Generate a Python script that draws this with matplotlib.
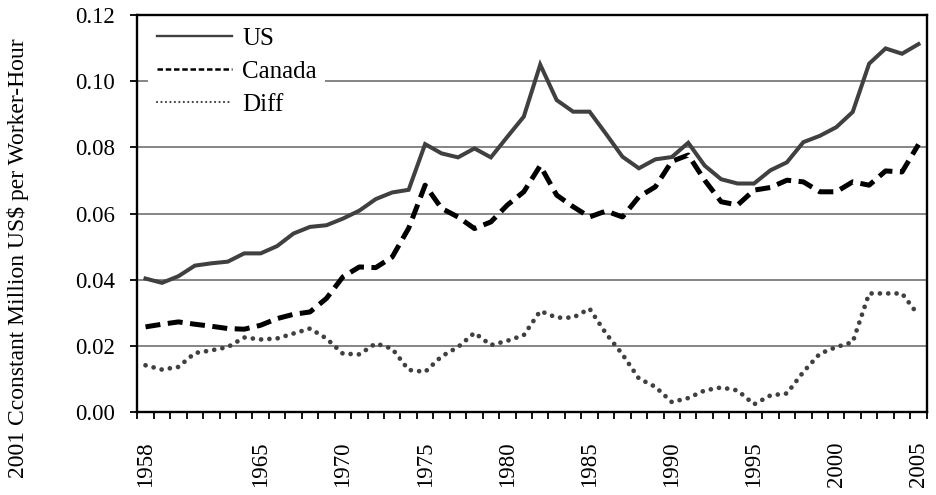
import matplotlib
matplotlib.use("Agg")
import matplotlib.pyplot as plt
from matplotlib.ticker import FixedLocator, FormatStrFormatter
from matplotlib.lines import Line2D

years = list(range(1958, 2006))
us = [0.0404, 0.0391, 0.0411, 0.0443, 0.0450, 0.0455, 0.0480, 0.0480, 0.0502, 0.0540,
      0.0560, 0.0565, 0.0585, 0.0609, 0.0644, 0.0664, 0.0672, 0.0810, 0.0782, 0.0770,
      0.0797, 0.0770, 0.0832, 0.0893, 0.1050, 0.0943, 0.0908, 0.0908, 0.0841, 0.0772,
      0.0737, 0.0764, 0.0771, 0.0814, 0.0745, 0.0704, 0.0691, 0.0691, 0.0731, 0.0755,
      0.0816, 0.0835, 0.0861, 0.0907, 0.1053, 0.1099, 0.1083, 0.1112]
canada = [0.0258, 0.0266, 0.0273, 0.0266, 0.0260, 0.0253, 0.0251, 0.0263, 0.0283, 0.0296,
          0.0303, 0.0344, 0.0409, 0.0439, 0.0437, 0.0469, 0.0556, 0.0686, 0.0616, 0.0590,
          0.0555, 0.0575, 0.0626, 0.0666, 0.0745, 0.0656, 0.0621, 0.0590, 0.0608, 0.0590,
          0.0651, 0.0681, 0.0758, 0.0777, 0.0701, 0.0636, 0.0626, 0.0671, 0.0679, 0.0701,
          0.0696, 0.0666, 0.0666, 0.0696, 0.0686, 0.0729, 0.0726, 0.0809]
diff = [0.0142, 0.0129, 0.0137, 0.0179, 0.0187, 0.0197, 0.0226, 0.0220, 0.0223, 0.0238,
        0.0253, 0.0223, 0.0177, 0.0175, 0.0208, 0.0192, 0.0128, 0.0122, 0.0169, 0.0197,
        0.0240, 0.0203, 0.0216, 0.0233, 0.0306, 0.0286, 0.0286, 0.0313, 0.0238, 0.0175,
        0.0102, 0.0077, 0.0031, 0.0043, 0.0066, 0.0075, 0.0066, 0.0024, 0.0051, 0.0057,
        0.0122, 0.0177, 0.0197, 0.0212, 0.0359, 0.0359, 0.0359, 0.0293]
series_names = ['US', 'Canada', 'Diff']
label_years = [1958, 1965, 1970, 1975, 1980, 1985, 1990, 1995, 2000, 2005]
y_ticks = [0.00, 0.02, 0.04, 0.06, 0.08, 0.10, 0.12]

plt.rcParams['font.family'] = ['Liberation Serif', 'DejaVu Serif']

fig = plt.figure(figsize=(9.36, 4.95), dpi=100)
ax = fig.add_axes([137.3 / 936, 1 - 412.3 / 495, (926.7 - 137.3) / 936, (412.3 - 15) / 495])

x = list(range(len(years)))
ax.plot(x, us, color='#404040', lw=2.9, solid_joinstyle='miter', zorder=3)
ax.plot(x, canada, color='black', lw=3.6, linestyle=(0, (3.0, 1.5)),
        dash_capstyle='butt', zorder=3)
ax.plot(x, diff, color='#404040', lw=3.4, linestyle=(0, (0.01, 1.75)),
        dash_capstyle='round', zorder=3)

ax.set_xlim(-0.5, len(years) - 0.5)
ax.set_ylim(0, 0.12)
ax.set_yticks(y_ticks)
ax.yaxis.set_major_formatter(FormatStrFormatter('%.2f'))
ax.yaxis.grid(True, color='#858585', lw=1.4)
ax.set_axisbelow(True)

pos = [years.index(y) for y in label_years]
ax.set_xticks(pos)
ax.set_xticklabels([str(y) for y in label_years], rotation=90)
ax.xaxis.set_minor_locator(FixedLocator([i - 0.5 for i in range(len(years) + 1)]))
ax.tick_params(axis='x', which='major', length=0, pad=21, labelsize=16.5)
ax.tick_params(axis='x', which='minor', length=5, width=1.3, direction='out')
ax.tick_params(axis='y', which='major', length=5, width=1.3, direction='out', pad=11, labelsize=16.5)

for s in ax.spines.values():
    s.set_color('black')
    s.set_linewidth(1.7)

fig.text(18 / 936, 1 - 258 / 495, '2001 Cconstant Million US\\$ per Worker-Hour',
         rotation=90, va='center', ha='center', fontsize=17)

handles = [
    Line2D([], [], color='#404040', lw=1.7),
    Line2D([], [], color='black', lw=1.8, linestyle=(0, (2.2, 1.1)), dash_capstyle='butt'),
    Line2D([], [], color='#404040', lw=1.6, linestyle=(0, (0.01, 2.0)), dash_capstyle='round'),
]
leg = ax.legend(handles, series_names, loc='upper left', bbox_to_anchor=(0.014, 0.99),
                fontsize=18, frameon=True, fancybox=False, edgecolor='none',
                facecolor='white', framealpha=1.0, handlelength=3.0,
                handletextpad=0.4, labelspacing=0.42, borderpad=0.35, borderaxespad=0.0)

fig.savefig('out.png', dpi=100)
